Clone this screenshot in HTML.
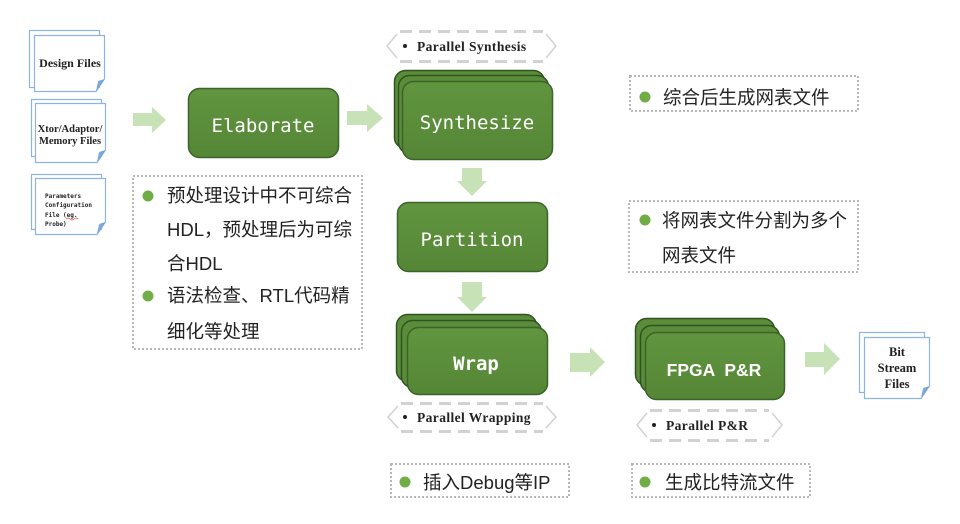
<!DOCTYPE html>
<html>
<head>
<meta charset="utf-8">
<style>
  html,body{margin:0;padding:0;background:#fff;}
  svg{display:block;}
  .cjk{font-family:"Liberation Sans","Noto Sans CJK SC",sans-serif;font-size:18.5px;fill:#222;}
  .node{font-family:"DejaVu Sans Mono","Liberation Mono",monospace;font-size:19px;fill:#fff;}
  .par{font-family:"Liberation Serif",serif;font-weight:bold;font-size:13.5px;fill:#222;letter-spacing:0.4px;}
  .doc{font-family:"Liberation Serif",serif;font-weight:bold;fill:#222;}
</style>
</head>
<body>
<svg width="960" height="524" viewBox="0 0 960 524" xmlns="http://www.w3.org/2000/svg">
  <defs>
    <linearGradient id="g" x1="0" y1="0" x2="0" y2="1">
      <stop offset="0" stop-color="#62953f"/>
      <stop offset="1" stop-color="#548636"/>
    </linearGradient>
    <linearGradient id="fold" x1="0" y1="0" x2="1" y2="1">
      <stop offset="0" stop-color="#9cc3ec"/>
      <stop offset="1" stop-color="#3f7fc4"/>
    </linearGradient>
  </defs>

  <!-- ===== Document icons ===== -->
  <rect x="29.5" y="30.5" width="70" height="57" fill="#fff" stroke="#8db4e0" stroke-width="1.2"/>
  <path d="M34.5 35.5 H104.5 V79 L96 91.5 H34.5 Z" fill="#fff" stroke="#8db4e0" stroke-width="1.2"/>
  <path d="M104.5 79 L96 91.5 L98 81 Z" fill="url(#fold)"/>
  <text class="doc" x="70" y="67" font-size="12" text-anchor="middle">Design Files</text>

  <rect x="31.5" y="99.5" width="70" height="57" fill="#fff" stroke="#8db4e0" stroke-width="1.2"/>
  <path d="M35.5 103.5 H105.5 V150 L97 162.5 H35.5 Z" fill="#fff" stroke="#8db4e0" stroke-width="1.2"/>
  <path d="M105.5 150 L97 162.5 L99 152 Z" fill="url(#fold)"/>
  <text class="doc" x="70" y="132" font-size="10.5" text-anchor="middle">Xtor/Adaptor/</text>
  <text class="doc" x="70" y="144" font-size="10.5" text-anchor="middle">Memory  Files</text>

  <rect x="31.5" y="174.5" width="70" height="55" fill="#fff" stroke="#8db4e0" stroke-width="1.2"/>
  <path d="M35.5 178.5 H105.5 V222 L97 234.5 H35.5 Z" fill="#fff" stroke="#8db4e0" stroke-width="1.2"/>
  <path d="M105.5 222 L97 234.5 L99 224 Z" fill="url(#fold)"/>
  <g font-family="DejaVu Sans Mono, Liberation Mono, monospace" font-weight="bold" font-size="6" fill="#222">
    <text x="45" y="198">Parameters</text>
    <text x="45" y="207">Configuration</text>
    <text x="45" y="217">File (eg.</text>
    <text x="45" y="226">Probe)</text>
  </g>
  <path d="M66 219 q2 -2 4 0 t4 0 t4 0" fill="none" stroke="#e05050" stroke-width="0.7"/>

  <rect x="859.5" y="332.5" width="65" height="60" fill="#fff" stroke="#8db4e0" stroke-width="1.2"/>
  <path d="M864.5 337.5 H929.5 V386 L921 398.5 H864.5 Z" fill="#fff" stroke="#8db4e0" stroke-width="1.2"/>
  <path d="M929.5 386 L921 398.5 L923 388 Z" fill="url(#fold)"/>
  <text class="doc" x="897" y="356" font-size="12.5" text-anchor="middle">Bit</text>
  <text class="doc" x="897" y="372" font-size="12.5" text-anchor="middle">Stream</text>
  <text class="doc" x="897" y="388" font-size="12.5" text-anchor="middle">Files</text>

  <!-- ===== Arrows ===== -->
  <g fill="#c8e2b8">
    <path d="M133 113 H152 V107 L166 120 L152 133 V126 H133 Z"/>
    <path d="M347 111 H367 V104 L383 118 L367 132 V125 H347 Z"/>
    <path d="M570 353 H590 V347 L605 362 L590 377 V372 H570 Z"/>
    <path d="M805 352 H824 V343 L840 359 L824 375 V367 H805 Z"/>
    <path d="M462 168 H482 V181 H487 L472 196 L457 181 H462 Z"/>
    <path d="M462 282 H482 V297 H487 L472 312 L457 297 H462 Z"/>
  </g>

  <!-- ===== Green nodes ===== -->
  <g stroke="#3a6428" stroke-width="1.5">
    <rect x="188.5" y="88.5" width="150" height="69" rx="11" fill="url(#g)"/>
    <rect x="394.5" y="70.5" width="150" height="78" rx="11" fill="#5b8c3a" stroke="#2f5320"/>
    <rect x="398.5" y="75.5" width="150" height="78" rx="11" fill="#5b8c3a" stroke="#2f5320"/>
    <rect x="402.5" y="81.5" width="150" height="78" rx="11" fill="url(#g)"/>
    <rect x="397.5" y="202.5" width="150" height="69" rx="11" fill="url(#g)"/>
    <rect x="396.5" y="314.5" width="140" height="67" rx="11" fill="#5b8c3a" stroke="#2f5320"/>
    <rect x="401.5" y="320.5" width="140" height="67" rx="11" fill="#5b8c3a" stroke="#2f5320"/>
    <rect x="407.5" y="327.5" width="140" height="67" rx="11" fill="url(#g)"/>
    <rect x="635.5" y="318.5" width="139" height="67" rx="11" fill="#5b8c3a" stroke="#2f5320"/>
    <rect x="640.5" y="325.5" width="139" height="67" rx="11" fill="#5b8c3a" stroke="#2f5320"/>
    <rect x="645.5" y="332.5" width="139" height="67" rx="11" fill="url(#g)"/>
  </g>
  <text class="node" x="263" y="132" text-anchor="middle">Elaborate</text>
  <text class="node" x="477" y="129" text-anchor="middle">Synthesize</text>
  <text class="node" x="472" y="246" text-anchor="middle">Partition</text>
  <text class="node" x="476" y="370" text-anchor="middle" font-weight="bold">Wrap</text>
  <text x="714" y="376" text-anchor="middle" font-family="Liberation Sans, sans-serif" font-weight="bold" font-size="17.5" fill="#fff" xml:space="preserve">FPGA  P&amp;R</text>

  <!-- ===== Parallel labels (dashed hexagons) ===== -->
  <g fill="none" stroke="#d2d2d2" stroke-width="3" stroke-dasharray="12 7">
    <path d="M400 31.5 H543"/>
    <path d="M400 61.5 H543"/>
    <path d="M401 403.5 H543"/>
    <path d="M401 431.5 H543"/>
    <path d="M650 410.5 H769"/>
    <path d="M650 440.5 H769"/>
  </g>
  <g fill="none" stroke="#d2d2d2" stroke-width="1.5">
    <path d="M397 34 L387 46 L397 58"/>
    <path d="M546 34 L556 46 L546 58"/>
    <path d="M398 406 L388 417 L398 428"/>
    <path d="M546 406 L556 417 L546 428"/>
    <path d="M647 413 L637 425 L647 437"/>
    <path d="M772 413 L782 425 L772 437"/>
  </g>
  <circle cx="405" cy="46" r="2" fill="#222"/>
  <text class="par" x="417" y="51">Parallel Synthesis</text>
  <circle cx="405" cy="417" r="2" fill="#222"/>
  <text class="par" x="417" y="422">Parallel Wrapping</text>
  <circle cx="654" cy="425" r="2" fill="#222"/>
  <text class="par" x="666" y="430" letter-spacing="1.2">Parallel P&amp;R</text>

  <!-- ===== Dotted text boxes ===== -->
  <g fill="none" stroke="#b8b8b8" stroke-width="2" stroke-dasharray="2 2">
    <rect x="133" y="176" width="229" height="173"/>
    <rect x="630" y="76" width="228" height="35"/>
    <rect x="629" y="201" width="229" height="71"/>
    <rect x="391" y="464" width="178" height="33"/>
    <rect x="632" y="464" width="178" height="33"/>
  </g>
  <g fill="#70ad47">
    <circle cx="148" cy="196" r="5.5"/>
    <circle cx="148" cy="296" r="5.5"/>
    <circle cx="645" cy="97" r="5.5"/>
    <circle cx="645" cy="220" r="5.5"/>
    <circle cx="405" cy="482" r="5.5"/>
    <circle cx="645" cy="482" r="5.5"/>
  </g>
  <text class="cjk" x="167" y="202">预处理设计中不可综合</text>
  <text class="cjk" x="167" y="236">HDL，预处理后为可综</text>
  <text class="cjk" x="167" y="270">合HDL</text>
  <text class="cjk" x="167" y="302">语法检查、RTL代码精</text>
  <text class="cjk" x="167" y="338">细化等处理</text>

  <text class="cjk" x="663" y="104">综合后生成网表文件</text>
  <text class="cjk" x="662" y="227">将网表文件分割为多个</text>
  <text class="cjk" x="662" y="262">网表文件</text>

  <text class="cjk" x="423" y="489">插入Debug等IP</text>
  <text class="cjk" x="665" y="489">生成比特流文件</text>
</svg>
</body>
</html>
